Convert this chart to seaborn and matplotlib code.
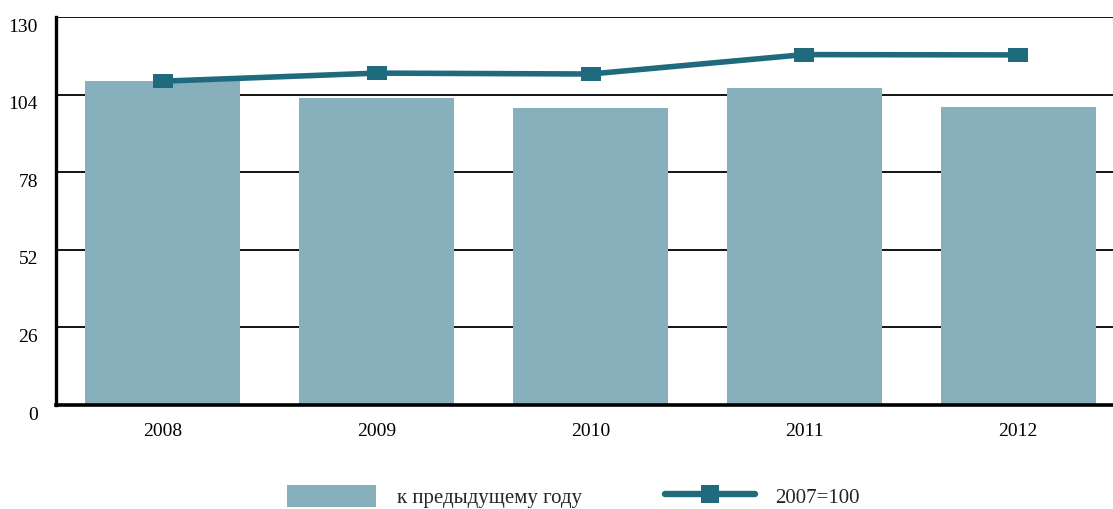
import matplotlib
matplotlib.use("Agg")
import matplotlib.pyplot as plt
import matplotlib.transforms as mtransforms
from matplotlib.patches import Patch
from matplotlib.lines import Line2D
import seaborn as sns
import pandas as pd

# Indices by year
years = ["2008", "2009", "2010", "2011", "2012"]
prev_year = [108.5, 102.8, 99.5, 106.2, 99.8]      # к предыдущему году
base_2007 = [108.5, 111.2, 110.9, 117.4, 117.3]    # 2007=100
y_ticks = [0, 26, 52, 78, 104, 130]
bar_label = "к предыдущему году"
line_label = "2007=100"

bar_color = "#87AFBC"
line_color = "#1F6B7D"

sns.set_theme(style="white")
plt.rcParams["font.family"] = ["Liberation Serif", "DejaVu Serif"]

df = pd.DataFrame({"year": years, "prev": prev_year, "base": base_2007})

W, H = 1113, 509
fig = plt.figure(figsize=(W / 100, H / 100), dpi=100)
ax = fig.add_axes([56 / W, 1 - 405 / H, (1125 - 56) / W, (405 - 17) / H])

# flat rectangular marker, wider than tall
rect_marker = [(-1, -0.75), (1, -0.75), (1, 0.75), (-1, 0.75), (-1, -0.75)]

sns.barplot(data=df, x="year", y="prev", color=bar_color, saturation=1,
            width=0.725, linewidth=0, edgecolor="none", ax=ax, zorder=2)
sns.pointplot(data=df, x="year", y="base", color=line_color,
              marker=rect_marker, markersize=13.7, markeredgewidth=0,
              linewidth=4.0, ax=ax, zorder=4)

ax.set_xlim(-0.5, 4.5)
ax.set_ylim(0, 130)
ax.set_yticks(y_ticks)
ax.set_yticklabels([str(v) for v in y_ticks])
ax.set_xlabel("")
ax.set_ylabel("")

# horizontal grid behind bars
for v in y_ticks[1:]:
    ax.axhline(v, color="black", lw=1.3, zorder=1)

for side in ["top", "right"]:
    ax.spines[side].set_visible(False)
for side in ["left", "bottom"]:
    ax.spines[side].set_color("black")
    ax.spines[side].set_zorder(5)
ax.spines["left"].set_linewidth(2.4)
ax.spines["bottom"].set_linewidth(2.6)

ax.tick_params(axis="y", length=0, pad=13, labelsize=14, labelcolor="black")
ax.tick_params(axis="x", which="major", length=0, pad=13, labelsize=14,
               labelcolor="black")
ax.set_xticks([0.5, 1.5, 2.5, 3.5], minor=True)
ax.tick_params(axis="x", which="minor", direction="in", length=6, width=1.8,
               color="black")

# y labels sit slightly below their grid lines
shift = mtransforms.ScaledTranslation(0, -8 / 100, fig.dpi_scale_trans)
for lbl in ax.get_yticklabels():
    lbl.set_transform(lbl.get_transform() + shift)

handles = [
    Patch(facecolor=bar_color, edgecolor="none", label=bar_label),
    Line2D([0], [0], color=line_color, lw=4.6, marker="s", markersize=13.5,
           markeredgewidth=0, solid_capstyle="round", label=line_label),
]
fig.legend(handles=handles, loc="center left",
           bbox_to_anchor=(287 / W, 1 - 496.5 / H), ncol=2, frameon=False,
           fontsize=15, handlelength=4.28, handleheight=1.2,
           handletextpad=1.0, columnspacing=4.0, borderpad=0,
           borderaxespad=0)

fig.savefig("out.png", dpi=100)
